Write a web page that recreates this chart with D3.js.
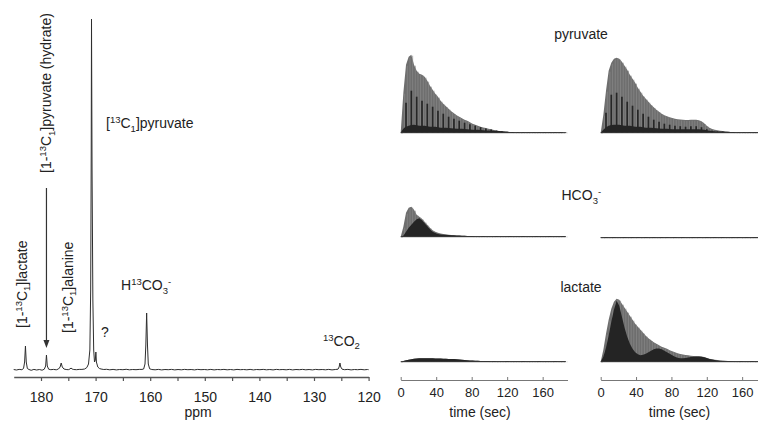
<!DOCTYPE html>
<html><head><meta charset="utf-8">
<script src="https://cdn.jsdelivr.net/npm/d3@7/dist/d3.min.js"></script>
<style>
html,body{margin:0;padding:0;background:#fff;}
svg{display:block;font-family:"Liberation Sans",Arial,sans-serif;}
</style></head>
<body>
<svg id="chart" width="758" height="421"></svg>
<script>
// ---------------- DATA ----------------
// 13C spectrum: [ppm, intensity]
const spectrum = [
 [185,0.5],[184.5,0],[184,0.6],[183.5,0.3],[183.2,1.5],[183.0,8],[182.85,24],[182.7,8],[182.5,1.5],[182.2,0.5],
 [181.8,-0.3],[181.3,0.6],[180.8,0],[180.3,0.5],[179.8,-0.2],[179.4,0.8],[179.15,4],[179.0,15],[178.85,4],[178.6,0.8],
 [178.2,0.3],[177.7,0.6],[177.2,0.2],[176.8,1],[176.5,3],[176.3,7],[176.1,3],[175.8,1],[175.4,0.5],[175,0.3],
 [174.7,1],[174.5,2],[174.3,1],[174,0.5],[173.5,0.3],[173,0.6],[172.5,0.6],[172,1],[171.6,2.5],[171.3,6],
 [171.05,20],[170.9,80],[170.8,220],[170.75,351],[170.65,200],[170.5,70],[170.35,20],[170.2,8],[170.05,10],[169.95,18],
 [169.85,8],[169.6,3],[169.3,1.5],[169,1],[168.5,0.5],[168,0.7],[167.4,0.2],[166.8,0.6],[166.2,0.1],[165.6,0.5],
 [165,0.3],[164.4,0.7],[163.8,0.2],[163.2,0.5],[162.6,0.3],[162,0.6],[161.5,0.6],[161.2,1],[160.95,6],[160.8,25],
 [160.65,57],[160.5,25],[160.35,6],[160.1,1.2],[159.7,0.5],[159.1,0.2],[158.5,0.6],[157.9,0.1],[157.3,0.5],[156.7,0.3],
 [156.1,0.6],[155.5,0.1],[154.9,0.5],[154.3,0.2],[153.7,0.6],[153.1,0.3],[152.5,0.5],[151.9,0.1],[151.3,0.6],[150.7,0.3],
 [150.1,0.5],[149.5,0.2],[148.9,0.6],[148.3,0.1],[147.7,0.5],[147.1,0.3],[146.5,0.6],[145.9,0.2],[145.3,0.5],[144.7,0.1],
 [144.1,0.6],[143.5,0.3],[142.9,0.5],[142.3,0.2],[141.7,0.6],[141.1,0.1],[140.5,0.5],[139.9,0.3],[139.3,0.6],[138.7,0.2],
 [138.1,0.5],[137.5,0.1],[136.9,0.6],[136.3,0.3],[135.7,0.5],[135.1,0.2],[134.5,0.6],[133.9,0.1],[133.3,0.5],[132.7,0.3],
 [132.1,0.6],[131.5,0.2],[130.9,0.5],[130.3,0.1],[129.7,0.6],[129.1,0.3],[128.5,0.5],[127.9,0.2],[127.3,0.6],[126.7,0.1],
 [126.1,0.5],[125.6,0.8],[125.4,3],[125.25,7],[125.1,3],[124.85,0.8],[124.4,0.3],[123.8,0.6],[123.2,0.1],[122.6,0.5],
 [122,0.3],[121.4,0.6],[120.8,0.2],[120.2,0.5],[120,0.3]
];
const ppmTicks = [180,175,170,165,160,155,150,145,140,135,130,125,120];

// dynamic time courses (time in sec)
const timeSec = [0,3,6,9,12,15,18,21,24,27,30,33,36,39,42,45,48,51,54,57,60,63,66,69,72,75,78,81,84,87,90,93,96,99,102,105,108,111,114,117,120,123,126,129,132,135,138,141,144,147,150,153,156,159,162,165,168,171,174,177,180,183,186];
const timeTicks = [0,40,80,120,160];

// pyruvate: dark values alternate between stripe heights (even samples) and base level (odd samples)
const pyrLeftGrey = [0,40,68,76,78,68,62,59,58,56, 52,47,43,39,36,32,29,26.5,24,21.5, 19.5,17.5,16,14.5,13,12,10.5,9,8,7, 6,5.2,4.6,4,3.4,2.8,2.2,1.8,1.4,1.1, 0.9,0.7,0.6, 0.5,0.5,0.4,0.5,0.4,0.4,0.5,0.4,0.4,0.5, 0.4,0.4,0.5,0.4,0.4,0.5,0.4,0.4,0.5,0.4];
const pyrLeftDark = [0,4,30,7,42,8,36,7,32,7, 29,6,26,6,22,5,19,5,16,4.5, 14,4,12,4,10,3.5,8.5,3,7,3, 5.5,2.5,4.2,2.2,3.2,2,2.2,1.6,1.4,1.1, 0.9,0.7,0.6, 0.5,0.5,0.4,0.5,0.4,0.4,0.5,0.4,0.4,0.5, 0.4,0.4,0.5,0.4,0.4,0.5,0.4,0.4,0.5,0.4];
const pyrRightGrey = [0,18,42,62,70,74,75,74,71,67, 63,58,54,50,45,41,37,34,31,28, 25.5,23,21,19,17.5,16.5,15.5,14.8,14,13.5, 13.2,13,12.8,12.8,13,13,13,12.5,11.5,9.5, 7,5,3.8,3,2.4,2,1.6,1.3,1,0.8, 0.6, 0.5,0.4,0.5,0.4,0.4,0.5,0.4,0.4,0.5,0.4,0.4,0.5];
const pyrRightDark = [0,3,20,7,38,8,40,8,36,7, 31,7,27,6,23,6,19,5,16,5, 13,4.5,11,4,9,4,8,3.5,7,3.5, 6.5,3.5,6,3.5,6.5,3.5,6.5,3.5,5.5,3, 3.5,2,2,1.5,1.3,1.1,1,0.9,0.8,0.7, 0.6, 0.5,0.4,0.5,0.4,0.4,0.5,0.4,0.4,0.5,0.4,0.4,0.5];
const hcoLeftGrey = [0,10,24,29,30,27,22,20,18,15, 12,9,6.5,5,4,3.3,2.8,2.4,2,1.8, 1.5,1.3,1.1,1,0.9,0.8,0.7,0.6, 0.5,0.4,0.5,0.6,0.4,0.5,0.4,0.5,0.6,0.4, 0.5,0.4,0.5,0.6,0.4,0.5,0.4,0.5,0.6,0.4, 0.5,0.4,0.5,0.6,0.4,0.5,0.4,0.5,0.6,0.4, 0.5,0.4,0.5,0.6,0.4];
const hcoLeftDark = [0,1,5,9,12,15,17.5,18.5,16.5,13.5, 10.5,7.5,5,3.6,2.8,2.3,2,1.8,1.6,1.5, 1.4,1.2,1.1,1,0.9,0.8,0.7,0.6, 0.5,0.4,0.5,0.6,0.4,0.5,0.4,0.5,0.6,0.4, 0.5,0.4,0.5,0.6,0.4,0.5,0.4,0.5,0.6,0.4, 0.5,0.4,0.5,0.6,0.4,0.5,0.4,0.5,0.6,0.4, 0.5,0.4,0.5,0.6,0.4];
const hcoRight = [0.5,0.4,0.6,0.5,0.4,0.6,0.5,0.5,0.4,0.6, 0.5,0.4,0.6,0.5,0.7,0.4,0.5,0.6,0.4,0.5, 0.6,0.5,0.4,0.6,0.5,0.7,0.5,0.4,0.6,0.5, 0.4,0.6,0.5,0.5,0.4,0.6,0.5,0.7,0.4,0.5, 0.6,0.4,0.5,0.6,0.5,0.4,0.6,0.5,0.5,0.4, 0.6,0.5,0.7,0.4,0.5,0.6,0.4,0.5,0.6,0.5, 0.4,0.6,0.5];
const lacLeft = [0,0.8,1.5,2,2.5,2.9,3.2,3.4,3.5,3.5, 3.5,3.4,3.4,3.3,3.2,3.1,3,2.9,2.8,2.7, 2.6,2.4,2.2,2,1.8,1.5,1.3,1.1,1,0.9, 0.8,0.7,0.7,0.6, 0.5,0.6,0.4,0.5,0.5,0.4,0.6,0.5,0.4,0.5, 0.5,0.4,0.6,0.5,0.4,0.5,0.5,0.4,0.6,0.5, 0.4,0.5,0.5,0.4,0.6,0.5,0.4,0.5,0.5];
const lacRightGrey = [0,12,28,42,53,60,63,62,58,54, 50,46,42,38,35,32,29,26,23.5,21.5, 19.5,18,16.5,15,14,13,11.5,10.5,9.5,8.5, 7.8,7.2,6.8,6.4,6,5.8,5.6,5.4,5.2,4.8, 3.8,3,2.4,2,1.6,1.3,1.1,0.9,0.8,0.7, 0.6, 0.5,0.4,0.6,0.5,0.4,0.5,0.6,0.4,0.5,0.5,0.4,0.5];
const lacRightDark = [0,5,14,26,40,52,61,56,45,34, 25,18,13,9.5,7.5,6.5,7,8,9.5,11, 12.5,13.3,13.2,12.5,11,9.5,8,6.5,5,4, 3.5,3.5,3.8,4.2,4.6,4.9,5,5.1,5,4.5, 3.6,2.8,2.2,1.7,1.3,1,0.8,0.7,0.6,0.6, 0.5, 0.5,0.4,0.6,0.5,0.4,0.5,0.6,0.4,0.5,0.5,0.4,0.5];

const rowTitles = ["pyruvate", "HCO3-", "lactate"];

// ---------------- LAYOUT ----------------
const svg = d3.select("#chart");
const TXT = "#222";

function rich(sel, segs, size) {
  let shift = 0;
  segs.forEach(s => {
    const ts = sel.append("tspan").text(s.t);
    let target = s.sup ? -5 : (s.sub ? 3.5 : 0);
    ts.attr("dy", target - shift).attr("font-size", (s.sup || s.sub) ? size * 0.68 : size);
    shift = target;
  });
}

// ---- Spectrum panel ----
const xPpm = d3.scaleLinear().domain([185, 120]).range([13.7, 368.6]);
const yInt = d3.scaleLinear().domain([0, 351]).range([370, 19]);

svg.append("path")
  .datum(spectrum)
  .attr("fill", "none").attr("stroke", "#2e2e2e").attr("stroke-width", 1)
  .attr("d", d3.line().x(d => xPpm(d[0])).y(d => yInt(d[1])));

const axL = svg.append("g").attr("transform", "translate(0,377)")
  .call(d3.axisBottom(xPpm).tickValues(ppmTicks)
    .tickFormat(d => d % 10 === 0 ? d : "").tickSize(4).tickSizeOuter(0).tickPadding(11));
axL.select(".domain").attr("stroke", "#555").attr("stroke-width", 1.3);
axL.selectAll(".tick line").attr("stroke", "#555").attr("stroke-width", 1.2);
axL.selectAll("text").attr("font-size", 14).attr("fill", TXT).attr("font-family", null);

svg.append("text").attr("x", 198).attr("y", 416.5).attr("text-anchor", "middle")
  .attr("font-size", 14).attr("fill", TXT).text("ppm");

function vlabel(x, y, segs) {
  const t = svg.append("text").attr("transform", `translate(${x},${y}) rotate(-90)`)
    .attr("font-size", 14).attr("fill", TXT);
  rich(t, segs, 14);
}
vlabel(26.5, 328, [{t:"[1-"},{t:"13",sup:true},{t:"C"},{t:"1",sub:true},{t:"]lactate"}]);
vlabel(51, 173, [{t:"[1-"},{t:"13",sup:true},{t:"C"},{t:"1",sub:true},{t:"]pyruvate (hydrate)"}]);
vlabel(72.5, 333, [{t:"[1-"},{t:"13",sup:true},{t:"C"},{t:"1",sub:true},{t:"]alanine"}]);

const ax0 = xPpm(179.0);
svg.append("line").attr("x1", ax0).attr("x2", ax0).attr("y1", 188).attr("y2", 341)
  .attr("stroke", "#333").attr("stroke-width", 1.2);
svg.append("path").attr("d", `M${ax0},348 L${ax0-3},340 L${ax0+3},340 Z`).attr("fill", "#333");

function hlabel(x, y, segs) {
  const t = svg.append("text").attr("x", x).attr("y", y).attr("font-size", 14).attr("fill", TXT);
  rich(t, segs, 14);
}
hlabel(106, 128, [{t:"["},{t:"13",sup:true},{t:"C"},{t:"1",sub:true},{t:"]pyruvate"}]);
hlabel(101, 337, [{t:"?"}]);
hlabel(121, 290, [{t:"H"},{t:"13",sup:true},{t:"CO"},{t:"3",sub:true},{t:"-",sup:true}]);
hlabel(323, 345.5, [{t:"13",sup:true},{t:"CO"},{t:"2",sub:true}]);

// ---- Time-course panels ----
const xLeft = d3.scaleLinear().domain([0, 188]).range([400.7, 567.5]);
const xRight = d3.scaleLinear().domain([0, 188]).range([600.7, 766.9]);

const panels = [
  {x: xLeft,  base: 132.7, grey: pyrLeftGrey,  dark: pyrLeftDark, comb: true},
  {x: xRight, base: 132.7, grey: pyrRightGrey, dark: pyrRightDark, comb: true},
  {x: xLeft,  base: 236.7, grey: hcoLeftGrey,  dark: hcoLeftDark},
  {x: xRight, base: 237.7, grey: hcoRight,     dark: hcoRight},
  {x: xLeft,  base: 361.7, grey: lacLeft,      dark: lacLeft},
  {x: xRight, base: 361.7, grey: lacRightGrey, dark: lacRightDark}
];

panels.forEach(p => {
  const y = d3.scaleLinear().domain([0, 80]).range([p.base, p.base - 80]);
  const g = svg.append("g");
  const pts = vals => vals.map((v, i) => [timeSec[i], v]);
  const areaGen = d3.area().x(d => p.x(d[0])).y0(y(0)).y1(d => y(d[1]));
  g.append("path").attr("d", areaGen(pts(p.grey))).attr("fill", "#6e6e6e");
  g.selectAll("line.s").data(pts(p.grey)).join("line")
    .attr("x1", d => p.x(d[0]) + 1.3).attr("x2", d => p.x(d[0]) + 1.3)
    .attr("y1", y(0)).attr("y2", d => y(d[1]) + 1)
    .attr("stroke", "#8a8a8a").attr("stroke-width", 0.7);
  if (p.comb) {
    const all = pts(p.dark);
    const baseLevel = all.filter((d, i) => i % 2 === 1 || i === 0);
    const stripes = all.filter((d, i) => i % 2 === 0 && i > 0);
    g.selectAll("line.k").data(stripes).join("line")
      .attr("x1", d => p.x(d[0])).attr("x2", d => p.x(d[0]))
      .attr("y1", y(0)).attr("y2", d => y(d[1]))
      .attr("stroke", "#262626").attr("stroke-width", 1.7);
    g.append("path").attr("d", areaGen.curve(d3.curveMonotoneX)(baseLevel)).attr("fill", "#242424");
  } else {
    g.append("path").attr("d", areaGen(pts(p.dark))).attr("fill", "#242424");
  }
  g.append("line").attr("x1", p.x(timeSec[0])).attr("x2", p.x(timeSec[timeSec.length - 1]))
    .attr("y1", y(0)).attr("y2", y(0)).attr("stroke", "#333").attr("stroke-width", 1);
});

[xLeft, xRight].forEach((xs, k) => {
  const a = svg.append("g").attr("transform", "translate(0,380)")
    .call(d3.axisBottom(xs).tickValues(timeTicks).tickSize(-3).tickSizeOuter(0).tickPadding(8));
  a.select(".domain").attr("stroke", "#777").attr("stroke-width", 1);
  a.selectAll(".tick line").attr("stroke", "#777");
  a.selectAll("text").attr("font-size", 13).attr("fill", TXT).attr("font-family", null);
  svg.append("text").attr("x", k === 0 ? 480 : 679.5).attr("y", 417).attr("text-anchor", "middle")
    .attr("font-size", 14).attr("fill", TXT).text("time (sec)");
});

svg.append("text").attr("x", 581).attr("y", 39).attr("text-anchor", "middle")
  .attr("font-size", 14).attr("fill", TXT).text(rowTitles[0]);
{
  const t = svg.append("text").attr("x", 561.5).attr("y", 200).attr("font-size", 14).attr("fill", TXT);
  rich(t, [{t:"HCO"},{t:"3",sub:true},{t:"-",sup:true}], 14);
}
svg.append("text").attr("x", 581).attr("y", 291.5).attr("text-anchor", "middle")
  .attr("font-size", 14).attr("fill", TXT).text(rowTitles[2]);
</script>
</body></html>
